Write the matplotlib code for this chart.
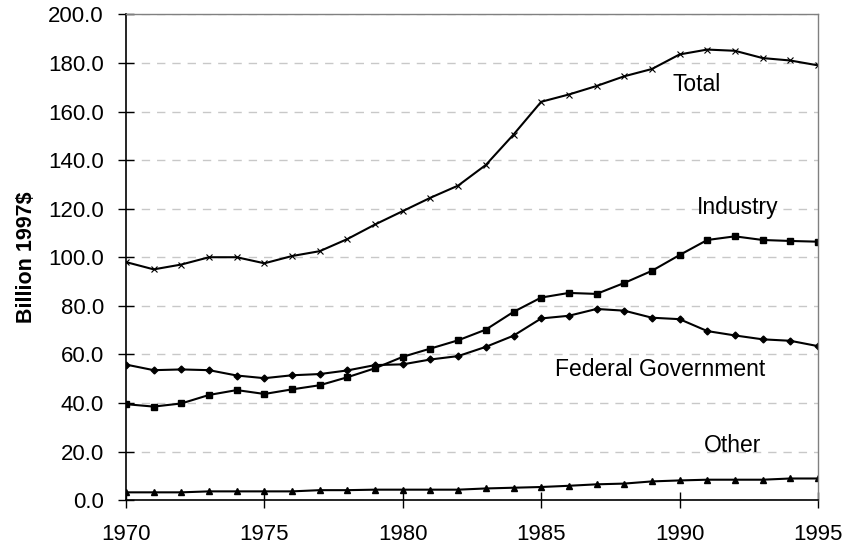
import matplotlib
matplotlib.use('Agg')
import matplotlib.pyplot as plt

plt.rcParams['font.family'] = ['Liberation Sans', 'DejaVu Sans']

years = list(range(1970, 1996))

total = [98.0, 95.0, 97.0, 100.0, 100.0, 97.5, 100.5, 102.5, 107.5, 113.5,
         119.0, 124.5, 129.5, 138.0, 150.5, 164.0, 167.0, 170.5, 174.5, 177.5,
         183.5, 185.5, 185.0, 182.0, 181.0, 179.0]
industry = [39.5, 38.5, 39.8, 43.3, 45.3, 43.7, 45.6, 47.3, 50.6, 54.3,
            59.0, 62.4, 65.8, 70.2, 77.5, 83.4, 85.3, 84.9, 89.4, 94.4,
            100.9, 107.1, 108.6, 107.1, 106.7, 106.4]
federal = [55.8, 53.5, 53.8, 53.5, 51.3, 50.2, 51.4, 51.9, 53.4, 55.6,
           55.9, 57.9, 59.3, 63.1, 67.7, 74.8, 75.9, 78.7, 78.0, 75.1,
           74.5, 69.6, 67.8, 66.2, 65.6, 63.4]
other = [3.2, 3.2, 3.2, 3.6, 3.6, 3.6, 3.6, 4.1, 4.1, 4.3,
         4.3, 4.3, 4.3, 4.8, 5.1, 5.4, 5.9, 6.5, 6.8, 7.7,
         8.1, 8.4, 8.4, 8.4, 8.9, 8.9]

fig = plt.figure(figsize=(8.47, 5.52), dpi=100)
ax = fig.add_axes([0.1488, 0.094, 0.8169, 0.880])

ax.plot(years, total, color='black', lw=1.5, marker='x', ms=5, mew=0.8)
ax.plot(years, industry, color='black', lw=1.5, marker='s', ms=5)
ax.plot(years, federal, color='black', lw=1.5, marker='D', ms=3.5)
ax.plot(years, other, color='black', lw=1.5, marker='^', ms=5)

# series labels
lbl = dict(fontsize=16.5, ha='center', va='center')
ax.text(1990.6, 171, 'Total', **lbl)
ax.text(1992.1, 120.4, 'Industry', **lbl)
ax.text(1989.3, 53.9, 'Federal Government', **lbl)
ax.text(1991.9, 22.6, 'Other', **lbl)

ax.set_xlim(1970, 1995)
ax.set_ylim(0, 200)
ax.set_xticks(range(1970, 1996, 5))
ax.set_yticks(range(0, 201, 20))
ax.set_yticklabels(['%.1f' % v for v in range(0, 201, 20)])
ax.tick_params(direction='inout', length=12, width=1, labelsize=16, color='black')
ax.tick_params(axis='y', pad=10)
ax.tick_params(axis='x', pad=11)

ax.yaxis.grid(True, linestyle=(0, (6, 5)), color='#c8c8c8', lw=1)
ax.set_axisbelow(True)
for s in ['top', 'right']:
    ax.spines[s].set_color('#808080')
    ax.spines[s].set_linewidth(1)
for s in ['left', 'bottom']:
    ax.spines[s].set_linewidth(1.2)

ax.set_ylabel('Billion 1997$', fontsize=15.5, fontweight='bold', labelpad=8)
ax.yaxis.set_label_coords(-0.128, 0.5)

fig.savefig('out.png', dpi=100)
